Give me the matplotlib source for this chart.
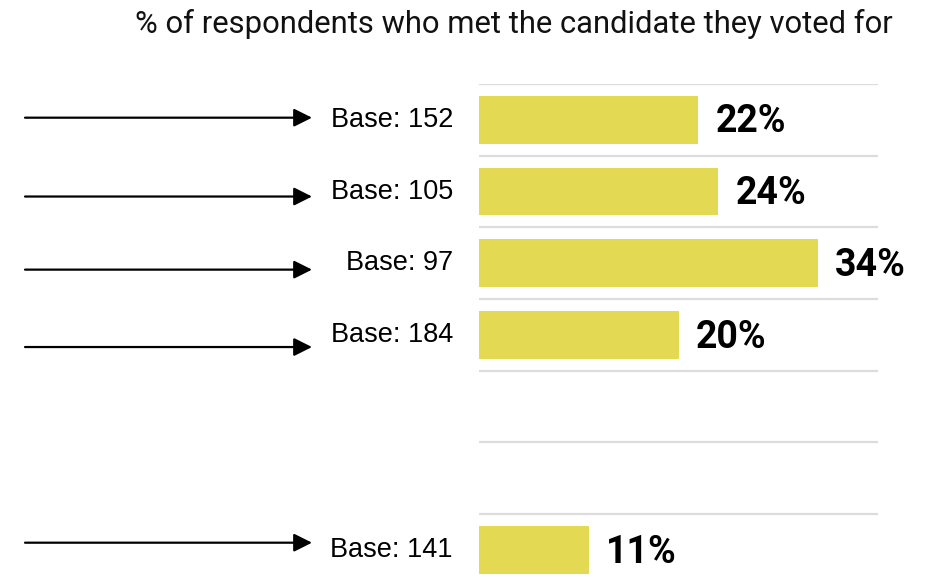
import matplotlib.pyplot as plt

# data
rows = [0, 1, 2, 3, 6]
values = [22, 24, 34, 20, 11]
bases = [152, 105, 97, 184, 141]
arrow_rows = [-0.03, 1.07, 2.09, 3.17, 5.9]
n_rows = 7
title = "% of respondents who met the candidate they voted for"

bar_color = "#e3d952"
grid_color = "#dcdcdc"

fig = plt.figure(figsize=(9.35, 5.84), dpi=100)
ax = fig.add_axes([479 / 935, -1.7 / 584, 399 / 935, 501.7 / 584])

ax.set_xlim(0, 40)
ax.set_ylim(n_rows - 0.5, -0.5)
ax.axis("off")

# row separators
ax.hlines([i - 0.5 for i in range(n_rows)], 0, 40, color=grid_color, lw=1.6, zorder=0)

ax.barh(rows, values, height=0.665, color=bar_color, zorder=2)

for r, v, b, ar in zip(rows, values, bases, arrow_rows):
    ax.text(v + 1.7, r + 0.03, f"{v}%", ha="left", va="center", fontsize=27,
            fontweight="bold", family="Roboto", color="black")
    ax.annotate(f"Base: {b}", xy=(453 / 935, r), xycoords=("figure fraction", "data"),
                ha="right", va="center", fontsize=19.5, family="Liberation Sans",
                annotation_clip=False)
    ax.annotate("", xy=(312 / 935, ar), xytext=(25 / 935, ar),
                xycoords=("figure fraction", "data"), textcoords=("figure fraction", "data"),
                arrowprops=dict(arrowstyle="-|>,head_length=1.1,head_width=0.55",
                                color="black", lw=1.6, shrinkA=0, shrinkB=0),
                annotation_clip=False)

fig.text(893 / 935, 1 - 24 / 584, title, ha="right", va="center", fontsize=22.3,
         family="Roboto", color="#111111")

fig.savefig("out.png", dpi=100)
